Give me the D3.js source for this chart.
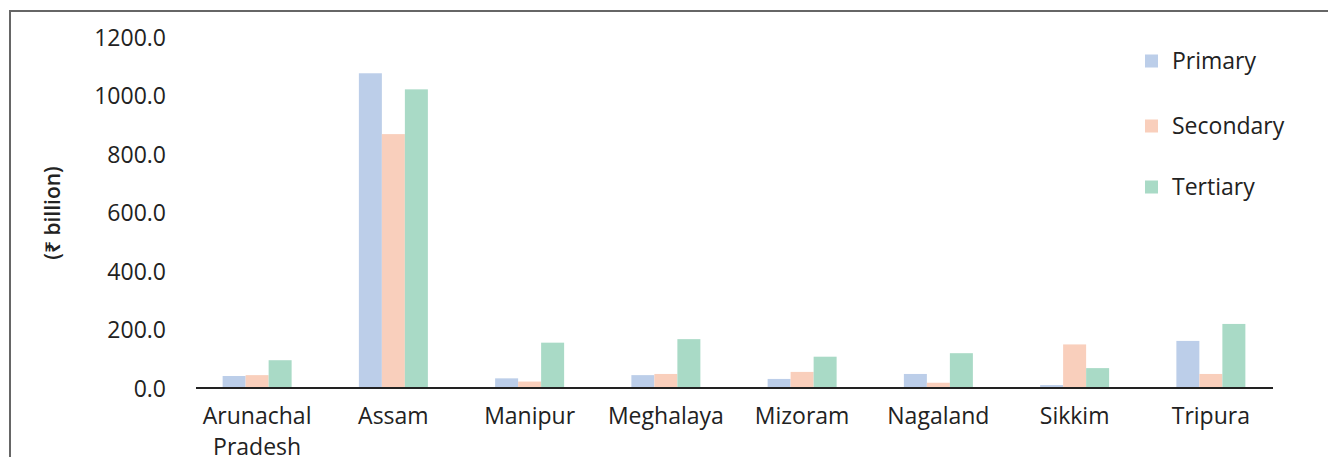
<!DOCTYPE html>
<html>
<head>
<meta charset="utf-8">
<script src="https://cdn.jsdelivr.net/npm/d3@7"></script>
<style>
  body { margin: 0; background: #fff; }
  text { font-family: "Open Sans", "Noto Sans", "DejaVu Sans", sans-serif; fill: #222; }
</style>
</head>
<body>
<div id="chart"></div>
<script>
var w = 1328, h = 457;

// data ======================================================
var states = ["Arunachal Pradesh", "Assam", "Manipur", "Meghalaya", "Mizoram", "Nagaland", "Sikkim", "Tripura"];
var sectors = ["Primary", "Secondary", "Tertiary"];
var primary   = [41, 1076, 33, 44, 31, 48, 10, 161];
var secondary = [44, 868, 22, 48, 55, 18, 149, 48];
var tertiary  = [95, 1021, 155, 167, 107, 119, 68, 219];
var yTicks = [0, 200, 400, 600, 800, 1000, 1200];
var colors = ["#bccee9", "#f9cfbc", "#a9dac6"];
// ===========================================================

var series = [primary, secondary, tertiary];

var svg = d3.select("#chart")
            .append("svg")
            .attr("width", w)
            .attr("height", h);

// frame
svg.append("path")
   .attr("d", "M10," + h + "V11H" + w)
   .attr("fill", "none")
   .attr("stroke", "#666")
   .attr("stroke-width", 2);

var x = d3.scaleBand().domain(states).range([189, 1279]).paddingInner(0).paddingOuter(0);
var xs = d3.scaleBand().domain(sectors).range([0, 69]);
var y = d3.scaleLinear().domain([0, 1200]).range([388, 37]);

// bars
sectors.forEach(function(s, i) {
  svg.append("g")
     .selectAll("rect")
     .data(series[i])
     .enter()
     .append("rect")
     .attr("x", function(d, j) { return x(states[j]) + x.bandwidth() / 2 - 34.5 + xs(s); })
     .attr("y", function(d) { return y(d); })
     .attr("width", xs.bandwidth())
     .attr("height", function(d) { return y(0) - y(d); })
     .attr("fill", colors[i]);
});

// y axis labels
var yAxis = d3.axisLeft(y).tickValues(yTicks).tickFormat(d3.format(".1f")).tickSize(0).tickPadding(0);
var gy = svg.append("g").attr("transform", "translate(166,0)").call(yAxis);
gy.select(".domain").remove();
gy.selectAll("text")
  .attr("font-size", 23)
  .attr("font-family", null)
  .attr("fill", "#222")
  .attr("dy", "0.35em");

// x axis
svg.append("line")
   .attr("x1", 196).attr("x2", 1273)
   .attr("y1", y(0)).attr("y2", y(0))
   .attr("stroke", "#222")
   .attr("stroke-width", 2);

svg.append("g")
   .selectAll("text")
   .data(states)
   .enter()
   .append("text")
   .attr("text-anchor", "middle")
   .attr("font-size", 23)
   .attr("x", function(d) { return x(d) + x.bandwidth() / 2; })
   .attr("y", 424)
   .each(function(d) {
     var parts = d.split(" ");
     var t = d3.select(this);
     parts.forEach(function(p, k) {
       t.append("tspan")
        .attr("x", x(d) + x.bandwidth() / 2)
        .attr("dy", k == 0 ? 0 : 31)
        .text(p);
     });
   });

// y title
svg.append("text")
   .attr("transform", "translate(60,213) rotate(-90)")
   .attr("text-anchor", "middle")
   .attr("font-size", 21)
   .attr("font-weight", 600)
   .text("(\u20B9 billion)");

// legend
var legendY = [61, 126, 187];
var lg = svg.append("g");
sectors.forEach(function(s, i) {
  lg.append("rect")
    .attr("x", 1145).attr("y", legendY[i] - 6.5)
    .attr("width", 13).attr("height", 13)
    .attr("fill", colors[i]);
  lg.append("text")
    .attr("x", 1172).attr("y", legendY[i])
    .attr("dy", "0.35em")
    .attr("font-size", 23)
    .text(s);
});
</script>
</body>
</html>
